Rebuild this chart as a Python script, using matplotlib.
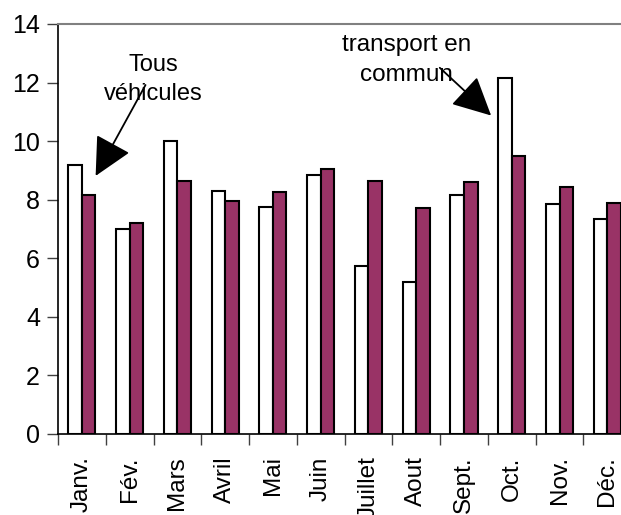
import matplotlib
matplotlib.use("Agg")
import matplotlib.pyplot as plt
import numpy as np

plt.rcParams['font.family'] = ['Liberation Sans', 'DejaVu Sans']

months = ["Janv.", "Fév.", "Mars", "Avril", "Mai", "Juin",
          "Juillet", "Aout", "Sept.", "Oct.", "Nov.", "Déc."]
tous_vehicules = [9.2, 7.0, 10.0, 8.3, 7.75, 8.85, 5.75, 5.2, 8.15, 12.15, 7.85, 7.35]
transport_commun = [8.15, 7.2, 8.65, 7.95, 8.25, 9.05, 8.65, 7.7, 8.6, 9.5, 8.45, 7.9]

fig = plt.figure(figsize=(6.21, 5.15), dpi=100)
ax = fig.add_axes([0.0934, 0.1573, 0.923, 0.7961])

x = np.arange(len(months))
w = 0.283
ax.bar(x - w / 2, tous_vehicules, width=w, color='white', edgecolor='black', linewidth=1.5)
ax.bar(x + w / 2, transport_commun, width=w, color='#993366', edgecolor='black', linewidth=1.5)

ax.set_xlim(-0.5, len(months) - 0.5)
ax.set_ylim(0, 14)
ax.set_yticks(range(0, 15, 2))
ax.set_xticks(x)
ax.set_xticklabels(months, rotation=90, fontsize=17.5)
ax.set_xticks(np.arange(-0.5, len(months), 1), minor=True)
ax.tick_params(axis='x', which='major', length=0, pad=16)
ax.tick_params(axis='x', which='minor', length=8, width=1, color='#404040')
ax.tick_params(axis='y', length=8, width=1, labelsize=18, pad=5, color='#404040')

ax.spines['right'].set_visible(False)
ax.spines['top'].set_color('#808080')
ax.spines['top'].set_linewidth(1.5)
ax.spines['left'].set_linewidth(1.2)
ax.spines['bottom'].set_linewidth(1.2)

ax.annotate("", xy=(0.26, 8.73), xytext=(1.36, 12.0),
            arrowprops=dict(arrowstyle='-|>,head_length=1.0,head_width=0.5',
                            mutation_scale=24, lw=1.3, color='black'))
ax.text(1.49, 12.1, "Tous\nvéhicules", ha='center', va='center', fontsize=17, linespacing=1.45)

ax.annotate("", xy=(8.61, 10.81), xytext=(7.45, 12.57),
            arrowprops=dict(arrowstyle='-|>,head_length=1.0,head_width=0.5',
                            mutation_scale=24, lw=1.3, color='black'))
ax.text(6.8, 12.77, "transport en\ncommun", ha='center', va='center', fontsize=17.5, linespacing=1.45)

fig.savefig("out.png", dpi=100)
